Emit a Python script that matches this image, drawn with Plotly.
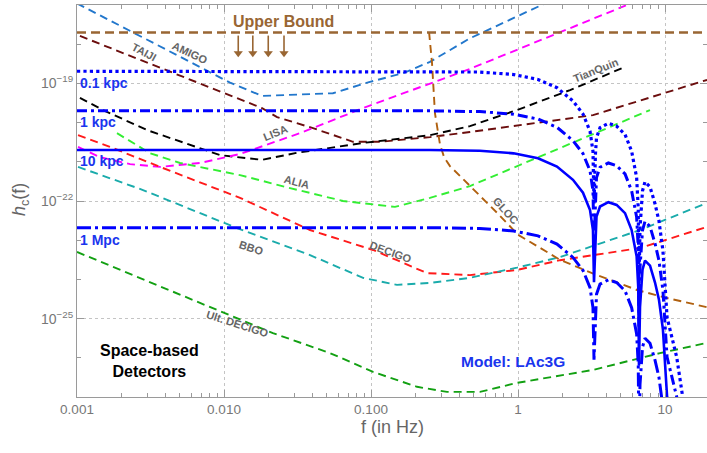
import numpy as np
import plotly.graph_objects as go

# ---------------- data (log10 f [Hz], log10 h_c) ----------------
upper_bound_logh = -17.70
arrow_f = [0.0125, 0.0157, 0.0200, 0.0256]
arrow_top_logh = -17.78
arrow_tip_logh = -18.30

amigo_logf = [-3.0, -1.959, -1.741, -1.259, -1.007, -0.782, -0.599, -0.327, 0.161, 0.30]
amigo_logh = [-16.96, -18.98, -19.32, -19.25, -18.96, -18.74, -18.45, -17.85, -17.00, -16.76]

taiji_logf = [-2.98, -2.50, -1.905, -1.741, -1.639, -1.395, -1.122, -0.939, -0.599, -0.327, 0.510, 1.286]
taiji_logh = [-17.79, -18.51, -19.40, -19.63, -19.86, -20.14, -20.49, -20.49, -20.37, -20.24, -19.81, -18.91]

tianquin_logf = [-2.980, -2.823, -2.524, -2.027, -1.741, -1.503, -1.054, -0.599, -0.327, -0.007, 0.354, 0.728]
tianquin_logh = [-19.37, -19.68, -20.19, -20.83, -20.95, -20.77, -20.52, -20.32, -20.09, -19.68, -19.17, -18.58]

lisa_logf = [-2.993, -2.844, -2.639, -2.435, -2.163, -1.891, -1.483, -1.054, -0.327, 0.741]
lisa_logh = [-20.62, -20.88, -21.06, -21.13, -21.03, -20.80, -20.27, -19.63, -18.63, -17.00]

alia_logf = [-2.728, -2.503, -2.299, -1.891, -1.551, -1.190, -0.837, -0.599, -0.327, 0.898]
alia_logh = [-20.27, -20.78, -21.03, -21.34, -21.67, -22.00, -22.15, -21.92, -21.62, -19.68]

decigo_logf = [-2.993, -2.776, -2.435, -1.891, -1.415, -0.986, -0.823, -0.619, -0.327, -0.007, 0.286, 0.830, 1.286]
decigo_logh = [-20.32, -20.62, -21.13, -21.92, -22.74, -23.25, -23.51, -23.84, -23.89, -23.76, -23.51, -23.20, -22.66]

bbo_logf = [-2.993, -2.551, -1.912, -1.415, -1.054, -0.823, -0.599, -0.327, -0.007, 0.286, 0.830, 1.286]
bbo_logh = [-21.13, -21.72, -22.69, -23.38, -23.96, -24.14, -24.09, -23.96, -23.70, -23.43, -22.74, -22.05]

ult_decigo_logf = [-3.0, -1.959, -1.667, -1.279, -0.986, -0.687, -0.483, -0.259, -0.007, 0.510, 0.966, 1.286]
ult_decigo_logh = [-23.30, -24.93, -25.37, -25.88, -26.36, -26.74, -26.87, -26.87, -26.64, -26.31, -25.88, -25.62]

gloc_logf = [-0.605, -0.585, -0.565, -0.531, -0.503, -0.463, -0.395, -0.306, -0.143, 0.0, 0.286, 0.537, 0.810, 0.986, 1.286]
gloc_logh = [-17.69, -18.48, -19.76, -20.55, -20.88, -21.11, -21.36, -21.69, -22.30, -22.86, -23.50, -23.89, -24.27, -24.45, -24.71]

# LAc3G model: spectral shape (log10 relative amplitude) and flat levels per distance
lac3g_logf = [-3.0, -0.6, -0.26, -0.03, 0.136, 0.265, 0.374, 0.442, 0.49, 0.51, 0.517, 0.527, 0.534,
              0.558, 0.615, 0.671, 0.728, 0.773, 0.807, 0.818, 0.823, 0.830, 0.837, 0.847, 0.864,
              0.898, 0.932, 0.959, 0.986, 1.014, 1.08, 1.12, 1.15]
lac3g_rel = [0.0, 0.0, -0.02, -0.084, -0.21, -0.42, -0.76, -1.09, -1.53, -2.04, -3.37, -2.10, -1.70,
             -1.44, -1.33, -1.40, -1.61, -2.04, -2.71, -3.50, -5.50, -4.00, -3.56, -3.05, -2.82,
             -2.95, -3.38, -3.82, -4.58, -6.28, -7.30, -8.30, -9.50]
distance_labels = ["0.1 kpc", "1 kpc", "10 kpc", "1 Mpc"]
distance_logh = [-18.69, -19.70, -20.70, -22.68]

# ---------------- styles ----------------
DASH = "8px,5px"
BROWN = "#996633"
fig = go.Figure()

def det(logf, logh, color, width=1.9):
    fig.add_trace(go.Scatter(x=10 ** np.array(logf), y=10 ** np.array(logh), mode="lines",
                             line=dict(color=color, width=width, dash=DASH),
                             hoverinfo="skip", showlegend=False))

det(amigo_logf, amigo_logh, "#2277cc")
det(taiji_logf, taiji_logh, "#6b0d0d")
det(tianquin_logf, tianquin_logh, "#000000")
det(lisa_logf, lisa_logh, "#ff00ff")
det(alia_logf, alia_logh, "#33ee33")
det(decigo_logf, decigo_logh, "#ff1a1a")
det(bbo_logf, bbo_logh, "#1aabab")
det(ult_decigo_logf, ult_decigo_logh, "#12a012")
det(gloc_logf, gloc_logh, "#b0600f")

# upper bound
fig.add_trace(go.Scatter(x=[1e-3, 25], y=[10 ** upper_bound_logh] * 2, mode="lines",
                         line=dict(color=BROWN, width=2.6, dash="9px,5px"),
                         hoverinfo="skip", showlegend=False))

# downward arrows below the upper bound (shafts + heads)
sx, sy = [], []
for f in arrow_f:
    sx += [f, f, None]
    sy += [10 ** arrow_top_logh, 10 ** (arrow_tip_logh + 0.08), None]
fig.add_trace(go.Scatter(x=sx, y=sy, mode="lines", line=dict(color=BROWN, width=1.6),
                         hoverinfo="skip", showlegend=False))
fig.add_trace(go.Scatter(x=arrow_f, y=[10 ** (arrow_tip_logh + 0.07)] * len(arrow_f), mode="markers",
                         marker=dict(symbol="triangle-down", size=8, color=BROWN, line=dict(width=0)),
                         hoverinfo="skip", showlegend=False))

# LAc3G curves
styles = [dict(dash="dot", width=3.2), dict(dash="10px,4px,3px,4px", width=3),
          dict(dash="solid", width=2.6), dict(dash="14px,4px,3px,4px", width=3)]
for lvl, st in zip(distance_logh, styles):
    fig.add_trace(go.Scatter(x=10 ** np.array(lac3g_logf),
                             y=10 ** (lvl + np.array(lac3g_rel)), mode="lines",
                             line=dict(color="#0000ff", **st),
                             hoverinfo="skip", showlegend=False))

ann = []
GRAY = "#666666"
FONT = "Liberation Sans"

def lab(text, lf, lh, angle, size=11, color=GRAY, bold=True, xanchor="center"):
    ann.append(dict(x=lf, y=lh, xref="x", yref="y", text=f"<b>{text}</b>" if bold else text,
                    showarrow=False, textangle=angle, xanchor=xanchor, yanchor="middle",
                    font=dict(family=FONT, size=size, color=color)))

lab("AMIGO", -2.231, -18.23, 25)
lab("TAIJI", -2.544, -18.20, 28)
lab("LISA", -1.653, -20.27, -22)
lab("ALIA", -1.503, -21.51, 15)
lab("TianQuin", 0.531, -18.66, -22)
lab("GLOC", -0.080, -22.25, 48)
lab("DECIGO", -0.864, -23.29, 20)
lab("BBO", -1.810, -23.19, 18)
lab("Ult. DECIGO", -1.905, -25.15, 18)

for t, lh in zip(distance_labels, [-19.0, -19.98, -20.98, -23.0]):
    lab(t, -2.995, lh, 0, size=14, color="#1a35ee", xanchor="left")

lab("Upper Bound", -1.592, -17.41, 0, size=16, color=BROWN)
lab("Space-based<br>Detectors", -2.510, -26.09, 0, size=16, color="#000000")
lab("Model: LAc3G", -0.035, -26.09, 0, size=15.5, color="#1a35ee")

# axis titles (placed in paper coordinates; plot area is 630 x 392 px)
ann.append(dict(x=(392 - 77) / 630, y=(397 - 427) / 392, xref="paper", yref="paper",
                text="f (in Hz)", showarrow=False, xanchor="center", yanchor="middle",
                font=dict(family=FONT, size=18, color="#666666")))
ann.append(dict(x=(20 - 77) / 630, y=(397 - 200) / 392, xref="paper", yref="paper",
                text="<i>h</i><sub>c</sub>(f)", showarrow=False, textangle=-90,
                xanchor="center", yanchor="middle",
                font=dict(family=FONT, size=18, color="#666666")))

fig.update_layout(annotations=ann)

AX = "#9a9a9a"
xmajor = [1e-3, 1e-2, 1e-1, 1, 10]
xminor = [m * d for d in [1e-3, 1e-2, 1e-1, 1, 10] for m in range(2, 10)]
ymajor = [1e-25, 1e-22, 1e-19]
yminor = [10.0 ** e for e in range(-27, -16) if e not in (-25, -22, -19)]

fig.update_xaxes(type="log", range=[-3, 1.2857], tickvals=xmajor, automargin=False,
                 ticktext=["0.001", "0.010", "0.100", "1", "10"],
                 showline=True, linecolor=AX, linewidth=1.2, mirror="ticks",
                 ticks="inside", ticklen=7, tickcolor=AX, tickwidth=1,
                 showgrid=True, gridcolor="#c4c4c4", griddash="dot", gridwidth=1,
                 zeroline=False,
                 minor=dict(tickmode="array", tickvals=xminor, ticks="inside", ticklen=4,
                            tickcolor=AX, showgrid=False),
                 tickfont=dict(family=FONT, size=13.5, color="#777777"))
fig.update_yaxes(type="log", range=[-27, -17], tickvals=ymajor, automargin=False,
                 ticktext=["10<sup>−25</sup>", "10<sup>−22</sup>", "10<sup>−19</sup>"],
                 showline=True, linecolor=AX, linewidth=1.2, mirror="ticks",
                 ticks="inside", ticklen=7, tickcolor=AX, tickwidth=1,
                 showgrid=True, gridcolor="#c4c4c4", griddash="dot", gridwidth=1,
                 zeroline=False,
                 minor=dict(tickmode="array", tickvals=yminor, ticks="inside", ticklen=4,
                            tickcolor=AX, showgrid=False),
                 tickfont=dict(family=FONT, size=14, color="#777777"))

fig.update_layout(width=707, height=453, margin=dict(l=77, r=0, t=5, b=56),
                  paper_bgcolor="white", plot_bgcolor="white",
                  font=dict(family=FONT))

fig.write_html("out.html", config={"displayModeBar": False},
               post_script="document.body.style.margin='0px';")
